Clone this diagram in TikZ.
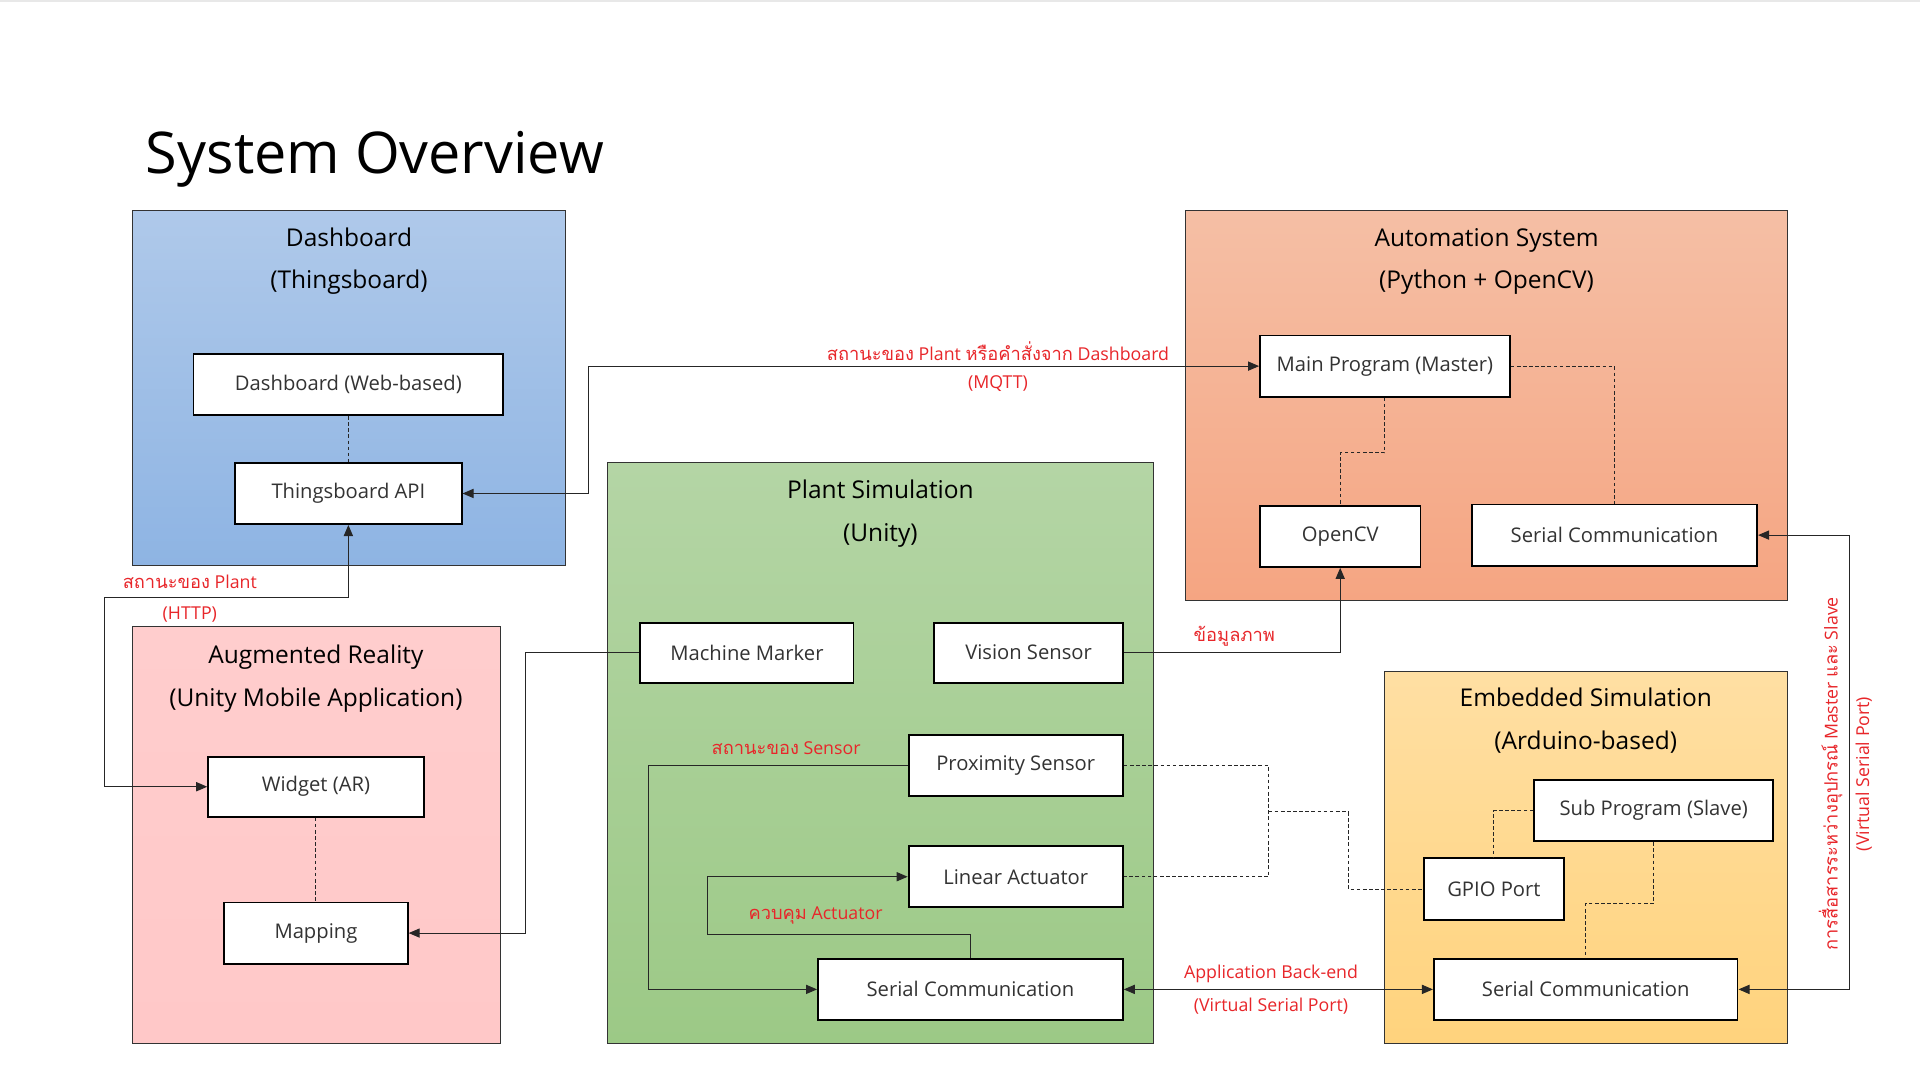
\documentclass[tikz,border=0pt]{standalone}
\usepackage{fontspec}
\setmainfont{Open Sans}
\newfontfamily\thaifont[Script=Thai,Scale=1.03]{Loma}
\usetikzlibrary{arrows.meta}
\definecolor{lbl}{RGB}{232,38,42}
\definecolor{dashA}{RGB}{175,201,234}
\definecolor{dashB}{RGB}{142,180,227}
\definecolor{plantA}{RGB}{180,213,165}
\definecolor{plantB}{RGB}{156,201,134}
\definecolor{arA}{RGB}{255,205,205}
\definecolor{arB}{RGB}{255,200,200}
\definecolor{autoA}{RGB}{245,191,165}
\definecolor{autoB}{RGB}{245,165,130}
\definecolor{embA}{RGB}{255,223,163}
\definecolor{embB}{RGB}{255,211,125}
\tikzset{
  blk/.style={draw=black, line width=1.5pt, fill=white, inner sep=0pt,
    font=\fontsize{16.5}{20}\selectfont, text=black!80},
  grp/.style={draw=black!80, line width=0.8pt},
  gtitle/.style={font=\fontsize{20}{24}\selectfont, anchor=base, inner sep=0pt, text=black},
  lab/.style={text=lbl, font=\fontsize{14.5}{18}\selectfont, inner sep=0pt},
  con/.style={draw=black!85, line width=0.8pt},
  dsh/.style={draw=black!85, line width=0.7pt, dash pattern=on 3pt off 2pt},
  >={Triangle[length=9pt,width=7.5pt]}
}
\begin{document}
\begin{tikzpicture}[x=1pt,y=-1pt]
\path[use as bounding box, fill=white] (0,0) rectangle (1568,882);
\fill[black!9] (0,0) rectangle (1568,2);

% title
\node[anchor=base west, inner sep=0pt, font=\fontsize{47}{56}\selectfont] (title) at (119,142) {System Overview};

% groups
\path[grp, top color=dashA, bottom color=dashB] (108,172) rectangle (462,462);
\path[grp, top color=plantA, bottom color=plantB] (496,378) rectangle (942,852);
\path[grp, top color=arA, bottom color=arB] (108,512) rectangle (409,852);
\path[grp, top color=autoA, bottom color=autoB] (968,172) rectangle (1460,490);
\path[grp, top color=embA, bottom color=embB] (1131,548) rectangle (1460,852);

\node[gtitle] (t1a) at (285,201) {Dashboard};
\node[gtitle] (t1b) at (285,236) {(Thingsboard)};
\node[gtitle] (t2a) at (719,407) {Plant Simulation};
\node[gtitle] (t2b) at (719,442) {(Unity)};
\node[gtitle] (t3a) at (258,542) {Augmented Reality};
\node[gtitle] (t3b) at (258,577) {(Unity Mobile Application)};
\node[gtitle] (t4a) at (1214,201) {Automation System};
\node[gtitle] (t4b) at (1214,236) {(Python + OpenCV)};
\node[gtitle] (t5a) at (1295,577) {Embedded Simulation};
\node[gtitle] (t5b) at (1295,612) {(Arduino-based)};

% blocks
\node[blk, minimum width=253pt, minimum height=50pt] (dweb) at (284.5,314) {Dashboard (Web-based)};
\node[blk, minimum width=185pt, minimum height=50pt] (api) at (284.5,403) {Thingsboard API};
\node[blk, minimum width=174pt, minimum height=49pt] (marker) at (610,533) {Machine Marker};
\node[blk, minimum width=154pt, minimum height=49pt] (vision) at (840,533) {Vision Sensor};
\node[blk, minimum width=175pt, minimum height=50pt] (prox) at (829.5,625) {Proximity Sensor};
\node[blk, minimum width=175pt, minimum height=50pt] (linear) at (829.5,716) {Linear Actuator};
\node[blk, minimum width=249pt, minimum height=50pt] (serialp) at (792.5,808) {Serial Communication};
\node[blk, minimum width=176pt, minimum height=49pt] (widget) at (258,642.5) {Widget (AR)};
\node[blk, minimum width=150pt, minimum height=50pt] (mapping) at (258,762) {Mapping};
\node[blk, minimum width=204pt, minimum height=50pt] (main) at (1131,299) {Main Program (Master)};
\node[blk, minimum width=131pt, minimum height=50pt] (opencv) at (1094.5,438) {OpenCV};
\node[blk, minimum width=233pt, minimum height=50pt] (seriala) at (1318.5,437) {Serial Communication};
\node[blk, minimum width=195pt, minimum height=50pt] (sub) at (1350.5,662) {Sub Program (Slave)};
\node[blk, minimum width=114pt, minimum height=50pt] (gpio) at (1220,726) {GPIO Port};
\node[blk, minimum width=248pt, minimum height=50pt] (seriale) at (1295,808) {Serial Communication};

% helper coordinates
\coordinate (k1) at (481,0);
\coordinate (h) at (85,488);
\coordinate (m) at (429,0);
\coordinate (p) at (530,0);
\coordinate (q) at (578,763);
\coordinate (r) at (1510,0);
\coordinate (j) at (1036,663);
\coordinate (j2) at (1101,0);

% connectors
\draw[con,<->] (api.east) -| (k1 |- main.west) -- (main.west);
\draw[con,<->] (api.south) |- (h) |- (widget.west);
\draw[con,->] (marker.west) -| (m |- mapping.east) -- (mapping.east);
\draw[con,->] (vision.east) -| (opencv.south);
\draw[con,->] (prox.west) -| (p |- serialp.west) -- (serialp.west);
\draw[con,->] (serialp.north) |- (q) |- (linear.west);
\draw[con,<->] (serialp.east) -- (seriale.west);
\draw[con,<->] (seriala.east) -| (r |- seriale.east) -- (seriale.east);

% dashed links
\draw[dsh] (dweb.south) -- (api.north);
\draw[dsh] (widget.south) -- (mapping.north);
\draw[dsh] (main.south) -- ++(0,45) -| (opencv.north);
\draw[dsh] (main.east) -| (seriala.north);
\draw[dsh] (sub.west) -| (gpio.north);
\draw[dsh] (sub.south) -- ++(0,50) -| (seriale.north);
\draw[dsh] (prox.east) -| (j) |- (linear.east);
\draw[dsh] (j) -| (j2 |- gpio.west) -- (gpio.west);

% labels
\node[lab] (l1a) at (815,287) {{\thaifont สถานะของ} Plant {\thaifont หรือคำสั่งจาก} Dashboard};
\node[lab] (l1b) at (815,313) {(MQTT)};
\node[lab] (l2a) at (155,475) {{\thaifont สถานะของ} Plant};
\node[lab] (l2b) at (155,502) {(HTTP)};
\node[lab] (l3) at (1008,520) {\thaifont ข้อมูลภาพ};
\node[lab] (l4) at (642,611) {{\thaifont สถานะของ} Sensor};
\node[lab] (l5) at (666,748) {{\thaifont ควบคุม} Actuator};
\node[lab] (l6a) at (1038,795) {Application Back-end};
\node[lab] (l6b) at (1038,822) {(Virtual Serial Port)};
\node[lab, rotate=90] (l7a) at (1495,632) {{\thaifont การสื่อสารระหว่างอุปกรณ์} Master {\thaifont และ} Slave};
\node[lab, rotate=90] (l7b) at (1522,632) {(Virtual Serial Port)};
\end{tikzpicture}
\end{document}
